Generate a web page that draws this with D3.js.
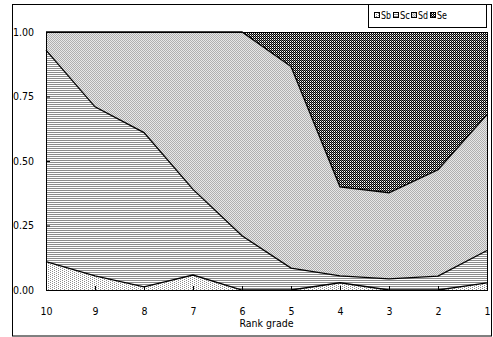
<!DOCTYPE html>
<html>
<head>
<meta charset="utf-8">
<script src="https://cdn.jsdelivr.net/npm/d3@7"></script>
<style>
  body { margin: 0; background: #fff; }
  svg text { font-family: "DejaVu Sans Condensed", "DejaVu Sans", sans-serif; font-stretch: condensed; }
</style>
</head>
<body>
<div id="chart"></div>
<script>
// Rank grades, left to right
const grades = ["10", "9", "8", "7", "6", "5", "4", "3", "2", "1"];
const seriesKeys = ["Sb", "Sc", "Sd", "Se"];

// share of each series per grade
const sbValues = [0.11, 0.055, 0.012, 0.058, 0, 0, 0.028, 0, 0, 0.028];
const scValues = [0.82, 0.655, 0.598, 0.332, 0.21, 0.085, 0.027, 0.043, 0.054, 0.125];
const sdValues = [0.07, 0.29, 0.39, 0.61, 0.79, 0.781, 0.345, 0.334, 0.412, 0.527];
const seValues = [0, 0, 0, 0, 0, 0.134, 0.60, 0.623, 0.534, 0.32];

const yTicks = [0, 0.25, 0.5, 0.75, 1];

const table = grades.map((g, i) => ({
    grade: g, Sb: sbValues[i], Sc: scValues[i], Sd: sdValues[i], Se: seValues[i]
}));

const W = 493, H = 337;
const margin = { top: 32, right: 6, bottom: 47, left: 46 };
const width = W - margin.left - margin.right;
const height = 258;

const svg = d3.select("#chart").append("svg")
    .attr("width", W)
    .attr("height", H);

// hatch patterns (pixel tiles)
const defs = svg.append("defs");
function pattern(id, w, h, bg, pixels) {
    const p = defs.append("pattern")
        .attr("id", id)
        .attr("patternUnits", "userSpaceOnUse")
        .attr("width", w)
        .attr("height", h);
    p.append("rect").attr("width", w).attr("height", h).attr("fill", bg)
        .attr("shape-rendering", "crispEdges");
    pixels.forEach(px => {
        p.append("rect").attr("x", px[0]).attr("y", px[1])
            .attr("width", px[3] || 1).attr("height", 1).attr("fill", px[2])
            .attr("shape-rendering", "crispEdges");
    });
}
pattern("pSb", 4, 2, "#fff", [[0, 0, "#8c8c8c"], [2, 1, "#8c8c8c"]]);
pattern("pSc", 2, 2, "#fff", [[0, 0, "#8c8c8c", 2]]);
pattern("pSd", 2, 2, "#e8e8e8", [[0, 0, "#b0b0b0"], [1, 1, "#b0b0b0"]]);
pattern("pSe", 2, 2, "#fff", [[0, 0, "#000"], [1, 1, "#000"], [1, 0, "#7a7a7a"]]);

// outer frame
svg.append("rect")
    .attr("x", 12.5).attr("y", 4.5)
    .attr("width", 479).attr("height", 331.5)
    .attr("fill", "none").attr("stroke", "#000");

const g = svg.append("g")
    .attr("transform", `translate(${margin.left},${margin.top})`);

const x = d3.scalePoint().domain(grades).range([0, width]);
const y = d3.scaleLinear().domain([0, 1]).range([height, 0]);

const stacked = d3.stack().keys(seriesKeys)(table);

const area = d3.area()
    .x(d => x(d.data.grade))
    .y0(d => y(d[0]))
    .y1(d => y(Math.min(1, d[1])));

const topLine = d3.line()
    .x(d => x(d.data.grade))
    .y(d => y(Math.min(1, d[1])));

g.selectAll("path.area")
    .data(stacked)
    .enter().append("path")
    .attr("class", "area")
    .attr("d", area)
    .attr("fill", d => `url(#p${d.key})`);

g.selectAll("path.edge")
    .data(stacked.slice(0, 3))
    .enter().append("path")
    .attr("class", "edge")
    .attr("d", topLine)
    .attr("fill", "none")
    .attr("stroke", "#000")
    .attr("stroke-width", 1.3);

// axes
const yAxis = d3.axisLeft(y).tickValues(yTicks).tickFormat(d3.format(".2f"))
    .tickSize(-4).tickPadding(12);
const xAxis = d3.axisBottom(x).tickSize(-4).tickPadding(18);

g.append("g").call(yAxis)
    .call(a => a.select(".domain").remove())
    .call(a => a.selectAll("text").attr("font-size", 10.5).attr("fill", "#000"));
g.append("g").attr("transform", `translate(0,${height})`).call(xAxis)
    .call(a => a.select(".domain").remove())
    .call(a => a.selectAll("text").attr("font-size", 10.5).attr("fill", "#000"));

// plot frame
g.append("rect")
    .attr("x", 0.5).attr("y", 0.5)
    .attr("width", width).attr("height", height)
    .attr("fill", "none").attr("stroke", "#000");

g.append("text")
    .attr("x", width / 2)
    .attr("y", height + 37)
    .attr("text-anchor", "middle")
    .attr("font-size", 10.5)
    .text("Rank grade");

// legend
const legend = svg.append("g");
legend.append("rect")
    .attr("x", 368.5).attr("y", 4.5)
    .attr("width", 118).attr("height", 23)
    .attr("fill", "#fff").attr("stroke", "#000");
const legendX = [374, 393, 411, 430];
seriesKeys.forEach((k, i) => {
    legend.append("rect")
        .attr("x", legendX[i] + 0.5).attr("y", 12.5)
        .attr("width", 5).attr("height", 5)
        .attr("fill", `url(#p${k})`)
        .attr("stroke", "#000");
    legend.append("text")
        .attr("x", legendX[i] + 7)
        .attr("y", 19)
        .attr("font-size", 10.5)
        .attr("textLength", 10)
        .attr("lengthAdjust", "spacingAndGlyphs")
        .text(k);
});
</script>
</body>
</html>
